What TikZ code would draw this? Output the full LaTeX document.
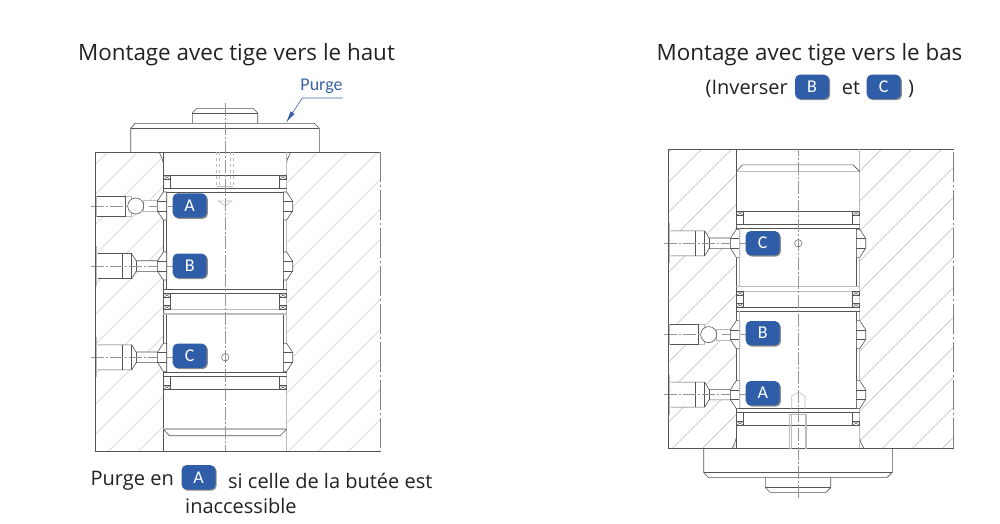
\documentclass[tikz,border=0pt]{standalone}
\usepackage{fontspec}
\setmainfont{Carlito}
\newfontfamily\titlefont{Open Sans}
\usetikzlibrary{arrows.meta,shadows}

\definecolor{chipblue}{HTML}{2F5DA8}
\definecolor{purgeblue}{HTML}{3A62A8}
\definecolor{linegray}{HTML}{555555}
\definecolor{softgray}{HTML}{BBBBBB}
\definecolor{textgray}{HTML}{222222}

\tikzset{
  part/.style={draw=linegray,line width=0.6pt},
  wall/.style={draw=softgray,line width=1.3pt},
  hatchline/.style={draw=softgray,line width=0.45pt},
  axisline/.style={draw=softgray!80!black,line width=0.45pt,dash pattern=on 13pt off 2pt on 2pt off 2pt},
  edgeline/.style={draw=gray,line width=1pt,dash pattern=on 30pt off 3pt on 2pt off 3pt},
  hidden/.style={draw=softgray,line width=0.6pt},
  chip/.style={fill=chipblue,rounded corners=5pt,minimum width=34pt,minimum height=24.4pt,inner sep=0pt,
    text=white,font=\fontsize{18}{18}\selectfont,drop shadow={shadow xshift=1.2pt,shadow yshift=-1.2pt,opacity=0.45,fill=black}},
  caption/.style={text=textgray,font=\titlefont\fontsize{20}{22}\selectfont,inner sep=0pt},
  title/.style={text=textgray,font=\titlefont\fontsize{22.4}{24}\selectfont,inner sep=0pt}
}

% 45 degree lines of the block, #1 = phase
\newcommand{\drawhatch}[1]{
  \begin{scope}
    \clip (95.5,152.3) rectangle (163.3,451.3) (286.7,152.3) rectangle (380.7,451.3);
    \foreach \k in {0,...,20}{
      \pgfmathsetmacro{\c}{#1+30*\k}
      \draw[hatchline] (\c-460,460) -- (\c-140,140);
    }
  \end{scope}
}

\newcommand{\drawseal}[2]{
  \draw[part] (#1,#2) rectangle ++(7.4,4);
  \draw[part,line width=0.35pt] (#1,#2) -- ++(7.4,4) (#1+7.4,#2) -- ++(-7.4,4);
}

\newcommand{\drawgroove}[1]{
  \draw[part,fill=white] (163.3,#1-14) -- (157.3,#1-4.8) -- (157.3,#1+4.8) -- (163.3,#1+14) -- (166.7,#1+14) -- (166.7,#1-14) -- cycle;
  \draw[part] (157.3,#1-4.8) -- (166.7,#1-4.8) (157.3,#1+4.8) -- (166.7,#1+4.8);
  \draw[part,fill=white] (286.7,#1-14) -- (292.7,#1-4.8) -- (292.7,#1+4.8) -- (286.7,#1+14) -- (283.3,#1+14) -- (283.3,#1-14) -- cycle;
  \draw[part] (292.7,#1-4.8) -- (283.3,#1-4.8) (292.7,#1+4.8) -- (283.3,#1+4.8);
}

\newcommand{\portopen}[1]{
  \draw[hidden] (96,#1-20) -- (96,#1+20);
  \draw[part,fill=white] (97.7,#1-12.5) -- (131.7,#1-12.5) -- (136,#1-5.3) -- (157.3,#1-5.3) -- (157.3,#1+5.3) -- (136,#1+5.3) -- (131.7,#1+12.5) -- (97.7,#1+12.5);
  \draw[part] (122.7,#1-12.5) -- (122.7,#1+12.5) (131.7,#1-12.5) -- (131.7,#1+12.5) (136,#1-5.3) -- (136,#1+5.3);
  \draw[axisline] (91,#1) -- (173,#1);
}

\newcommand{\portplug}[1]{
  \draw[hidden,fill=white] (96.7,#1-10) rectangle (131,#1+10);
  \draw[part] (96.7,#1-9.5) -- (125.7,#1-9.5) -- (125.7,#1+10) -- (96.7,#1+10);
  \draw[hidden,fill=white] (143,#1-5.5) rectangle (157.3,#1+5.5);
  \draw[part,fill=white] (135.7,#1) circle (8);
  \draw[axisline] (91,#1) -- (127,#1);
  \draw[axisline] (149,#1) -- (173,#1);
}

\newcommand{\drawcylinder}{
  % cap and stud
  \draw[part] (130.7,152.3) -- (130.7,128.3) -- (135,123.3) -- (314.3,123.3) -- (319.3,128.3) -- (319.3,152.3);
  \draw[part] (130.7,128.3) -- (319.3,128.3);
  \draw[part] (192.3,123.3) -- (192.3,113) -- (197,108.3) -- (253,108.3) -- (257.7,113) -- (257.7,123.3);
  \draw[part] (192.3,113) -- (257.7,113);
  % block
  \draw[part] (380.7,152.3) -- (95.5,152.3) -- (95.5,451.3) -- (380.7,451.3);
  \draw[edgeline] (380.7,152.3) -- (380.7,451.3);
  \draw[part] (159.3,152.3) -- (162.3,159.3) -- (163.3,163);
  \draw[part] (290.7,152.3) -- (287.3,159.3) -- (286.7,163);
  % bore walls
  \foreach \a/\b in {152.3/192,220/252,280/343,371/451.3}{
    \draw[part] (163.3,\a) -- (163.3,\b);
    \draw[wall] (286.7,\a) -- (286.7,\b);
  }
  % piston
  \foreach \a/\b in {192.3/289.3,314/372.3}{
    \draw[part] (166.7,\a) -- (166.7,\b);
    \draw[part] (283.3,\a) -- (283.3,\b);
  }
  \foreach \y in {175.3,188.3,192.3,289.3,293.3,372.3,376.3,389.3}{
    \draw[part] (163.3,\y) -- (286.7,\y);
  }
  \foreach \y in {309.3,314,429}{
    \draw[wall] (163.3,\y) -- (286.7,\y);
  }
  \draw[part] (163.3,429) -- (169.3,435.7) -- (280,435.7) -- (286.7,429);
  \foreach \a/\b in {175.3/188.3,293.3/309.3,376.3/389.3}{
    \draw[part] (170.7,\a) -- (170.7,\b);
    \draw[part] (279.3,\a) -- (279.3,\b);
  }
  \foreach \x in {163.3,279.3}{
    \drawseal{\x}{175.3}
    \drawseal{\x}{293.3}
    \drawseal{\x}{305.3}
    \drawseal{\x}{385.3}
  }
  \foreach \y in {206,266,357.3}{
    \drawgroove{\y}
  }
  % axis and purge hole
  \draw[axisline] (225.3,103) -- (225.3,451.3);
  \draw[part,line width=0.45pt] (225.3,357.3) circle (3.7);
}

\begin{document}
\begin{tikzpicture}[x=1pt,y=-1pt]
\useasboundingbox[fill=white] (0,0) rectangle (1000,523);

% left drawing
\drawhatch{259.6}
\portplug{206}
\portopen{266}
\portopen{357.3}
\drawcylinder
\foreach \x in {216.7,219.3,230.7,233.3}{
  \draw[hidden,dashed] (\x,152.3) -- (\x,186.7);
}
\draw[hidden] (216.7,186.7) -- (233.3,186.7);
\draw[hidden] (218.3,201) -- (231.7,201) -- (225.3,206) -- cycle;

% right drawing
\begin{scope}[shift={(573,-3)}]
  \drawhatch{250.7}
\end{scope}
\begin{scope}[shift={(573,600.6)},yscale=-1]
  \portopen{206}
  \portplug{266}
  \portopen{357.3}
  \drawcylinder
  \draw[wall] (166.7,192.3) -- (166.7,289.3) (166.7,314) -- (166.7,372.3);
  \draw[hidden] (218.7,191) -- (218.7,204.6) -- (225.3,208.6) -- (232,204.6) -- (232,191);
  \draw[hidden] (216.3,151.6) -- (216.3,186.3) -- (233.7,186.3) -- (233.7,151.6);
  \draw[hidden] (218.7,151.6) -- (218.7,186.3) (232,151.6) -- (232,186.3);
\end{scope}

% titles
\node[title] (titleleft) at (236.5,54.5) {Montage avec tige vers le haut};
\node[title] (titleright) at (809.5,54.5) {Montage avec tige vers le bas};

% purge mark
\node[text=purgeblue,font=\fontsize{18}{18}\selectfont,inner sep=0pt] (purge) at (321.5,86.5) {Purge};
\coordinate (purgeknee) at (302.3,98);
\coordinate (purgeend) at (343.3,98);
\coordinate (purgetip) at (286,122.7);
\draw[draw=purgeblue!35,line width=1.4pt] (purgeknee) -- (purgeend);
\draw[draw=purgeblue,line width=0.6pt,-{Latex[length=12pt,width=5pt]}] (purgeknee) -- (purgetip);

% chips on the left drawing
\node[chip] (chipA) at (189.7,205.5) {A};
\node[chip] (chipB) at (189.7,265.7) {B};
\node[chip] (chipC) at (189.7,355.7) {C};

% chips on the right drawing
\node[chip] (chipRC) at (762.7,243.2) {C};
\node[chip] (chipRB) at (762.7,333.2) {B};
\node[chip] (chipRA) at (762.7,393.2) {A};

% line under the right title
\node[caption,anchor=east] (inverser) at (788,88.5) {(Inverser};
\node[chip] (chipSB) at (812,86.8) {B};
\node[caption] (et) at (851,88) {et};
\node[chip] (chipSC) at (883.7,86.8) {C};
\node[caption] (closing) at (911,88.5) {)};

% note under the left drawing
\node[caption,anchor=east] (purgeen) at (174,480.5) {Purge en};
\node[chip] (chipNA) at (198.5,477.3) {A};
\node[caption,anchor=west] (note) at (228,480.5) {si celle de la butée est};
\node[caption,anchor=west] (noteend) at (185,505.5) {inaccessible};
\end{tikzpicture}
\end{document}
